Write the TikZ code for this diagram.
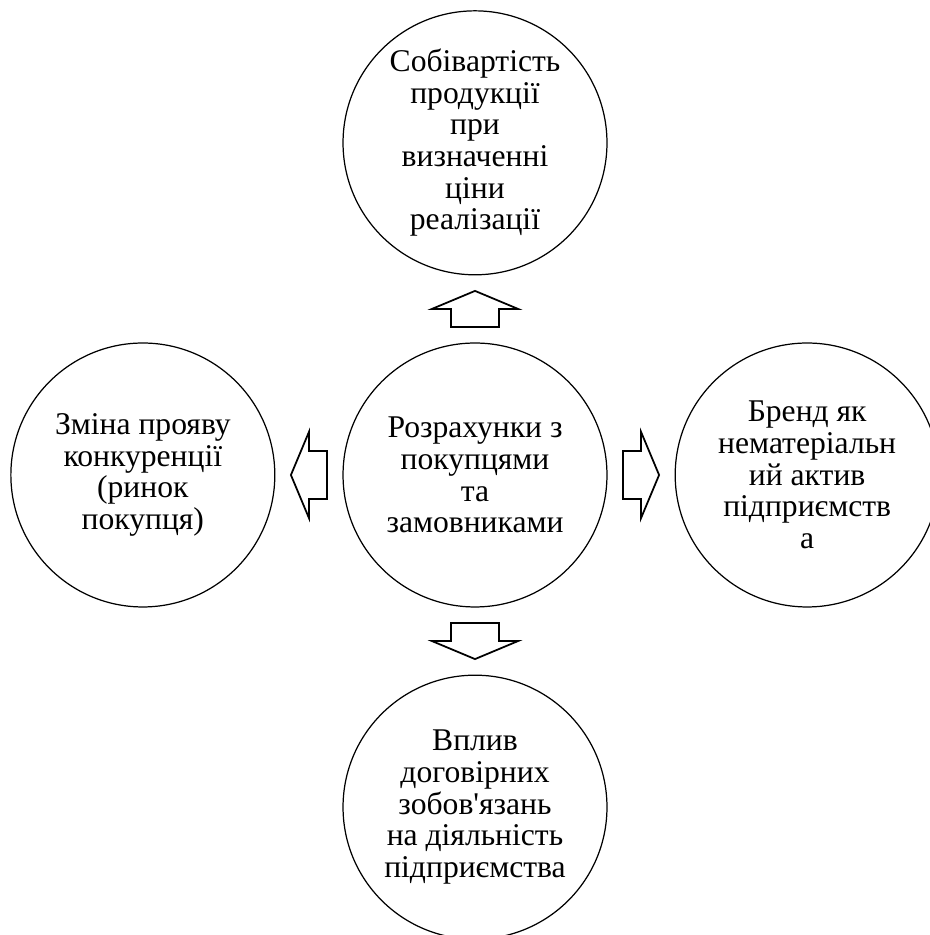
\documentclass[tikz,border=0pt]{standalone}
\usepackage{fontspec}
\setmainfont{Liberation Serif}[Ligatures=TeXOff]
\usetikzlibrary{positioning,calc}

\begin{document}
\begin{tikzpicture}[
  x=0.02cm, y=0.02cm,
  font=\fontsize{18}{18}\selectfont,
  node distance=1.34cm,
  circ/.style={circle,draw,line width=0.7pt,minimum size=5.28cm,inner sep=0pt,align=center},
  blk/.style={draw,line width=1pt,fill=white,line join=miter},
  blockarrow/.pic={\draw[blk] (-18,-24) -- (0,-24) -- (0,-43) -- (18,0) -- (0,43) -- (0,24) -- (-18,24) -- cycle;},
  ]
  \useasboundingbox (0,0) rectangle (929,935);
  \node[circ] (pay) at (475,460) {Розрахунки з\\покупцями\\та\\замовниками};
  \node[circ,above=of pay] (cost) {Собівартість\\продукції\\при\\визначенні\\ціни\\реалізації};
  \node[circ,left=of pay]  (comp) {Зміна прояву\\конкуренції\\(ринок\\покупця)};
  \node[circ,right=of pay] (brand) {Бренд як\\нематеріальн\\ий актив\\підприємств\\а};
  \node[circ,below=of pay] (contr) {Вплив\\договірних\\зобов'язань\\на діяльність\\підприємства};
  % block arrows between the circles
  \pic[rotate=90]  at ($(pay.north)!0.5!(cost.south)$)  {blockarrow};
  \pic[rotate=180] at ($(pay.west)!0.5!(comp.east)$)    {blockarrow};
  \pic             at ($(pay.east)!0.5!(brand.west)$)   {blockarrow};
  \pic[rotate=-90] at ($(pay.south)!0.5!(contr.north)$) {blockarrow};
\end{tikzpicture}
\end{document}
